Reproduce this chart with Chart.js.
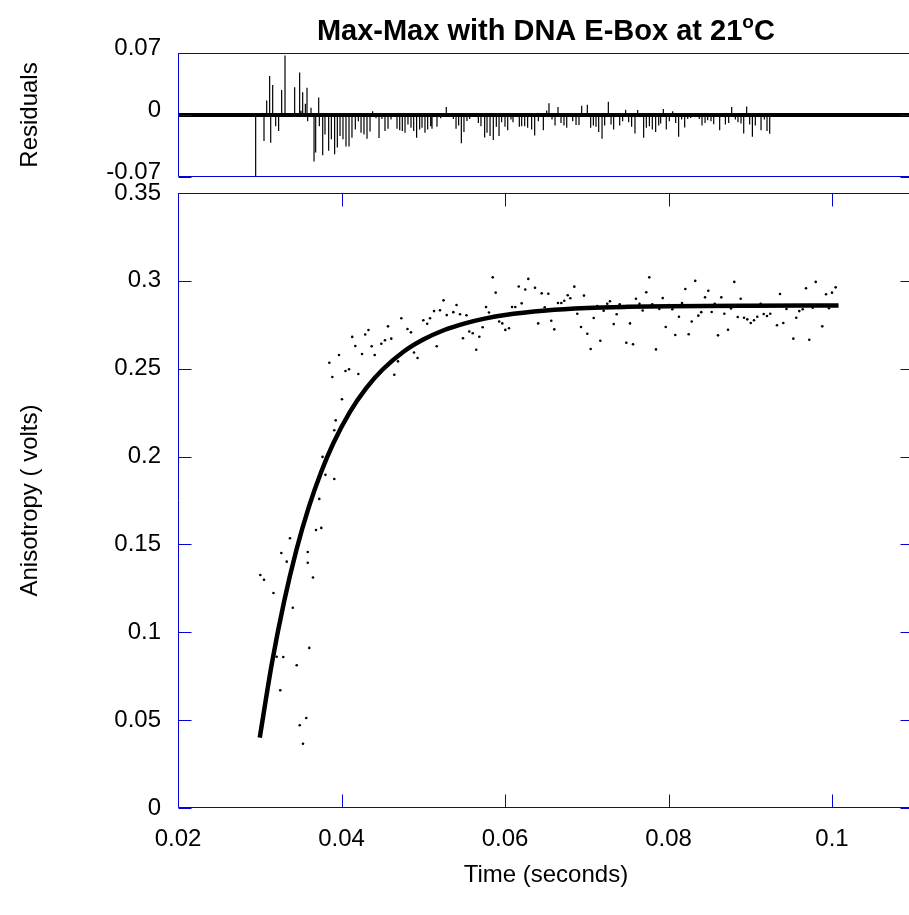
<!DOCTYPE html>
<html>
<head>
<meta charset="utf-8">
<title>Max-Max with DNA E-Box at 21°C</title>
<script src="https://cdn.jsdelivr.net/npm/chart.js@4.4.1/dist/chart.umd.min.js"></script>
<style>
  html, body { margin: 0; padding: 0; background: #fff; overflow: hidden; }
  #stage { position: relative; width: 909px; height: 915px; overflow: hidden; background: #fff; }
  #stage canvas { position: absolute; left: 0; top: 0; }
</style>
</head>
<body>
<div id="stage">
  <canvas id="mainChart" width="960" height="915"></canvas>
  <canvas id="residChart" width="960" height="220"></canvas>
</div>
<script>
// ---- Measured anisotropy (time in seconds, anisotropy in volts) ----
const obsTime = [
  0.03007,0.03052,0.03168,0.03207,0.03251,0.03264,0.03288,0.03330,0.03370,0.03404,
  0.03452,0.03489,0.03529,0.03569,0.03587,0.03587,0.03606,0.03651,0.03688,0.03728,
  0.03753,0.03768,0.03804,0.03851,0.03888,0.03912,0.03912,0.03929,0.03969,0.04006,
  0.04049,0.04092,0.04131,0.04169,0.04206,0.04251,0.04290,0.04330,0.04369,0.04406,
  0.04487,0.04532,0.04569,0.04609,0.04646,0.04691,0.04732,0.04807,0.04850,0.04887,
  0.04930,0.05001,0.05048,0.05083,0.05132,0.05165,0.05205,0.05248,0.05287,0.05368,
  0.05407,0.05450,0.05486,0.05529,0.05563,0.05605,0.05648,0.05686,0.05727,0.05768,
  0.05804,0.05850,0.05886,0.05929,0.05967,0.06004,0.06049,0.06086,0.06126,0.06168,
  0.06204,0.06248,0.06285,0.06367,0.06406,0.06449,0.06486,0.06530,0.06566,0.06603,
  0.06648,0.06689,0.06725,0.06767,0.06799,0.06848,0.06884,0.06930,0.06966,0.07007,
  0.07048,0.07085,0.07129,0.07166,0.07207,0.07251,0.07284,0.07330,0.07366,0.07403,
  0.07484,0.07529,0.07566,0.07602,0.07645,0.07684,0.07728,0.07765,0.07802,0.07847,
  0.07888,0.07929,0.07966,0.08006,0.08047,0.08083,0.08128,0.08165,0.08206,0.08247,
  0.08284,0.08327,0.08365,0.08401,0.08447,0.08487,0.08528,0.08565,0.08606,0.08646,
  0.08683,0.08728,0.08765,0.08805,0.08847,0.08883,0.08924,0.08964,0.09006,0.09046,
  0.09086,0.09128,0.09165,0.09205,0.09245,0.09327,0.09364,0.09404,0.09443,0.09527,
  0.09563,0.09600,0.09642,0.09682,0.09722,0.09764,0.09801,0.09881,0.09927,0.09963,
  0.10000,0.10045
];
const obsAnisotropy = [
  0.1326,0.1299,0.1224,0.0861,0.0670,0.1451,0.0859,0.1402,0.1535,0.1140,
  0.0812,0.0471,0.0366,0.0512,0.1457,0.1396,0.0911,0.1312,0.1582,0.1759,
  0.1594,0.1998,0.1896,0.2534,0.2453,0.2150,0.1872,0.2206,0.2578,0.2326,
  0.2487,0.2497,0.2681,0.2629,0.2470,0.2584,0.2695,0.2720,0.2628,0.2578,
  0.2642,0.2662,0.2741,0.2671,0.2466,0.2542,0.2787,0.2726,0.2707,0.2592,
  0.2561,0.2776,0.2756,0.2787,0.2828,0.2628,0.2833,0.2889,0.2805,0.2822,
  0.2863,0.2810,0.2673,0.2804,0.2712,0.2702,0.2608,0.2682,0.2736,0.2851,
  0.2820,0.3020,0.2933,0.2769,0.2758,0.2721,0.2730,0.2851,0.2851,0.2968,
  0.2872,0.2951,0.3011,0.2961,0.2758,0.2929,0.2850,0.2927,0.2773,0.2724,
  0.2874,0.2874,0.2887,0.2918,0.2901,0.2967,0.2813,0.2737,0.2916,0.2699,
  0.2612,0.2789,0.2857,0.2659,0.2830,0.2870,0.2884,0.2754,0.2810,0.2867,
  0.2648,0.2758,0.2639,0.2898,0.2869,0.2831,0.2935,0.3020,0.2867,0.2610,
  0.2840,0.2902,0.2737,0.2863,0.2838,0.2692,0.2796,0.2874,0.2954,0.2696,
  0.2769,0.3000,0.2802,0.2822,0.2906,0.2944,0.2823,0.2870,0.2690,0.2906,
  0.2813,0.2722,0.2843,0.2994,0.2794,0.2898,0.2790,0.2781,0.2760,0.2776,
  0.2796,0.2870,0.2811,0.2800,0.2813,0.2747,0.2925,0.2760,0.2840,0.2671,
  0.2790,0.2828,0.2838,0.2958,0.2665,0.2847,0.2994,0.2741,0.2924,0.2844,
  0.2933,0.2963
];

// ---- Fitted rise curve ----
const fitTime = [
  0.0300,0.0315,0.0330,0.0345,0.0360,0.0375,0.0390,0.0410,0.0430,0.0450,
  0.0475,0.0500,0.0525,0.0550,0.0575,0.0600,0.0650,0.0700,0.0750,0.0800,
  0.0900,0.1008
];
const fitAnisotropy = [
  0.0400,0.0827,0.1179,0.1471,0.1712,0.1911,0.2076,0.2252,0.2388,0.2494,
  0.2594,0.2666,0.2719,0.2757,0.2785,0.2806,0.2831,0.2845,0.2852,0.2856,
  0.2859,0.2860
];

// ---- Fit residuals ----
const residTime = [
  0.02950,0.03052,0.03085,0.03121,0.03134,0.03158,0.03195,0.03231,0.03268,0.03309,
  0.03427,0.03488,0.03505,0.03525,0.03558,0.03578,0.03586,0.03627,0.03664,0.03684,
  0.03721,0.03729,0.03770,0.03798,0.03843,0.03876,0.03916,0.03949,0.03982,0.04018,
  0.04055,0.04092,0.04128,0.04169,0.04206,0.04239,0.04275,0.04312,0.04349,0.04381,
  0.04422,0.04459,0.04495,0.04532,0.04569,0.04606,0.04679,0.04712,0.04744,0.04777,
  0.04813,0.04850,0.04883,0.04919,0.04956,0.04985,0.05021,0.05054,0.05091,0.05107,
  0.05168,0.05213,0.05282,0.05368,0.05401,0.05433,0.05466,0.05498,0.05535,0.05568,
  0.05674,0.05706,0.05751,0.05780,0.05817,0.05857,0.05894,0.05927,0.05959,0.06000,
  0.06033,0.06073,0.06098,0.06175,0.06204,0.06241,0.06277,
  0.06326,0.06363,0.06408,0.06469,0.06510,0.06538,0.06575,0.06612,0.06648,0.06685,
  0.06722,0.06755,0.06828,0.06869,0.06905,0.06938,0.06975,0.07007,0.07048,0.07081,
  0.07113,0.07146,0.07187,0.07219,0.07264,0.07297,0.07329,0.07403,0.07439,0.07476,
  0.07513,0.07549,0.07590,0.07623,0.07696,0.07729,0.07766,0.07802,0.07843,0.07880,
  0.07904,0.07937,0.07973,0.08010,0.08051,0.08088,0.08124,0.08161,0.08198,0.08235,
  0.08271,0.08377,0.08410,0.08447,0.08479,0.08520,0.08553,0.08626,0.08696,0.08736,
  0.08773,0.08818,0.08850,0.08887,0.08920,0.08956,0.08993,0.09026,0.09062,0.09132,
  0.09172,0.09205,0.09238
];
const residValue = [
  -0.0700,-0.0294,0.0164,0.0439,-0.0312,0.0339,-0.0126,-0.0182,0.0283,0.0673,
  0.0312,0.0480,0.0048,0.0257,0.0126,0.0309,-0.0071,0.0082,-0.0525,-0.0424,
  0.0197,-0.0126,-0.0454,-0.0219,-0.0405,-0.0275,-0.0443,-0.0368,-0.0238,-0.0275,
  -0.0357,-0.0357,-0.0257,-0.0164,-0.0071,-0.0201,-0.0219,-0.0268,-0.0186,0.0041,
  -0.0037,-0.0260,-0.0045,-0.0182,-0.0156,-0.0052,-0.0156,-0.0171,-0.0182,-0.0201,
  -0.0108,-0.0145,-0.0182,-0.0257,-0.0164,-0.0145,-0.0201,-0.0164,-0.0126,-0.0156,
  -0.0134,-0.0037,0.0089,-0.0045,-0.0156,-0.0119,-0.0320,-0.0193,-0.0067,-0.0045,
  -0.0089,-0.0126,-0.0253,-0.0201,-0.0238,-0.0283,-0.0134,-0.0238,-0.0082,-0.0134,
  -0.0171,-0.0052,-0.0082,-0.0134,-0.0126,-0.0126,-0.0145,
  -0.0164,-0.0231,-0.0071,-0.0171,0.0052,0.0134,-0.0052,-0.0119,0.0089,-0.0089,
  -0.0119,-0.0145,-0.0071,-0.0112,-0.0112,0.0104,-0.0020,0.0115,-0.0145,-0.0119,
  -0.0134,-0.0193,-0.0268,-0.0119,0.0149,-0.0108,-0.0164,-0.0119,-0.0071,0.0060,
  -0.0082,-0.0134,-0.0208,0.0056,-0.0257,-0.0145,-0.0126,-0.0164,-0.0193,-0.0119,
  -0.0097,0.0067,-0.0164,-0.0071,0.0041,-0.0089,-0.0246,-0.0052,-0.0141,-0.0045,
  -0.0033,-0.0045,-0.0119,-0.0089,-0.0060,-0.0071,-0.0104,-0.0171,-0.0108,-0.0089,
  0.0089,-0.0052,-0.0082,-0.0097,-0.0208,0.0097,-0.0108,-0.0246,-0.0119,-0.0171,
  -0.0052,-0.0182,-0.0212
];

// ---- Axis ticks ----
const timeTickValues = [0.02, 0.04, 0.06, 0.08, 0.1];
const timeTickLabels = ['0.02', '0.04', '0.06', '0.08', '0.1'];
const anisoTickValues = [0, 0.05, 0.1, 0.15, 0.2, 0.25, 0.3, 0.35];
const anisoTickLabels = ['0', '0.05', '0.1', '0.15', '0.2', '0.25', '0.3', '0.35'];
const residTickValues = [-0.07, 0, 0.07];
const residTickLabels = ['-0.07', '0', '0.07'];

// ---- Layout and style ----
const FONT = "'Liberation Sans', Arial, Helvetica, sans-serif";
const AXIS_BLUE = 'rgb(0,0,215)';
const TICK_LEN = 13;
const CANVAS_W = 960;
const PLOT_LEFT = 178;
const PLOT_RIGHT = 913.75;
const MAIN_TOP = 193, MAIN_BOTTOM = 808, MAIN_H = 915;
const RES_TOP = 53, RES_BOTTOM = 177, RES_H = 220;
const TIME_MIN = 0.02, TIME_MAX = 0.11;

function fixedTicks(values) {
  return function (scale) { scale.ticks = values.map(v => ({ value: v })); };
}
function labelFor(values, labels) {
  return function (v) {
    const i = values.findIndex(t => Math.abs(t - v) < 1e-9);
    return i >= 0 ? labels[i] : '';
  };
}

// Blue box with inward tick marks drawn along the plot frame
function framePlugin(xTicks, yTicks) {
  return {
    id: 'boxFrame',
    afterDatasetsDraw(chart) {
      const { ctx, chartArea: a, scales } = chart;
      const L = Math.round(a.left) + 0.5, R = Math.round(a.right) - 0.5;
      const T = Math.round(a.top) + 0.5, B = Math.round(a.bottom) - 0.5;
      ctx.save();
      ctx.strokeStyle = AXIS_BLUE;
      ctx.lineWidth = 1;
      ctx.beginPath();
      ctx.moveTo(L, T); ctx.lineTo(R, T); ctx.lineTo(R, B); ctx.lineTo(L, B); ctx.closePath();
      xTicks.forEach(v => {
        const x = Math.round(scales.x.getPixelForValue(v)) + 0.5;
        ctx.moveTo(x, T); ctx.lineTo(x, T + TICK_LEN);
        ctx.moveTo(x, B); ctx.lineTo(x, B - TICK_LEN);
      });
      yTicks.forEach(v => {
        const y = Math.round(scales.y.getPixelForValue(v)) + 0.5;
        ctx.moveTo(L, y); ctx.lineTo(L + TICK_LEN, y);
        ctx.moveTo(R, y); ctx.lineTo(R - TICK_LEN, y);
      });
      ctx.stroke();
      ctx.restore();
    }
  };
}

// Chart heading with a raised degree "o"
const headingPlugin = {
  id: 'heading',
  afterDraw(chart) {
    const { ctx, chartArea: a } = chart;
    const main = 'Max-Max with DNA E-Box at 21', sup = 'o', tail = 'C';
    const big = 'bold 29px ' + FONT, small = 'bold 19px ' + FONT;
    ctx.save();
    ctx.fillStyle = '#000';
    ctx.textBaseline = 'alphabetic';
    ctx.font = big; const w1 = ctx.measureText(main).width, w3 = ctx.measureText(tail).width;
    ctx.font = small; const w2 = ctx.measureText(sup).width;
    const cx = (a.left + a.right) / 2;
    let x = cx - (w1 + w2 + w3) / 2;
    const base = 40;
    ctx.textAlign = 'left';
    ctx.font = big; ctx.fillText(main, x, base); x += w1;
    ctx.font = small; ctx.fillText(sup, x, base - 12); x += w2;
    ctx.font = big; ctx.fillText(tail, x, base);
    ctx.restore();
  }
};

Chart.defaults.font.family = FONT;
Chart.defaults.color = '#000';

// ---- Main panel: data points and fitted curve ----
new Chart(document.getElementById('mainChart'), {
  type: 'scatter',
  data: {
    datasets: [
      {
        label: 'Fit',
        data: fitTime.map((t, i) => ({ x: t, y: fitAnisotropy[i] })),
        showLine: true,
        borderColor: '#000',
        borderWidth: 4.5,
        pointRadius: 0,
        cubicInterpolationMode: 'monotone',
        fill: false
      },
      {
        label: 'Anisotropy',
        data: obsTime.map((t, i) => ({ x: t, y: obsAnisotropy[i] })),
        showLine: false,
        pointRadius: 1.3,
        pointBorderWidth: 0,
        pointBackgroundColor: '#000',
        backgroundColor: '#000'
      }
    ]
  },
  options: {
    responsive: false,
    animation: false,
    devicePixelRatio: 1,
    layout: { padding: { left: 0, top: MAIN_TOP, right: CANVAS_W - PLOT_RIGHT, bottom: 0 } },
    plugins: { legend: { display: false }, tooltip: { enabled: false }, title: { display: false } },
    scales: {
      x: {
        type: 'linear', min: TIME_MIN, max: TIME_MAX,
        afterBuildTicks: fixedTicks(timeTickValues),
        afterFit(s) { s.height = MAIN_H - MAIN_BOTTOM; },
        grid: { display: false, drawTicks: false },
        border: { display: false },
        ticks: { font: { size: 24 }, padding: 17, maxRotation: 0, autoSkip: false,
                 callback: labelFor(timeTickValues, timeTickLabels) },
        title: { display: true, text: 'Time (seconds)', font: { size: 24 }, padding: { top: 0, bottom: 25 } }
      },
      y: {
        type: 'linear', min: 0, max: 0.35,
        afterBuildTicks: fixedTicks(anisoTickValues),
        afterFit(s) { s.width = PLOT_LEFT; },
        grid: { display: false, drawTicks: false },
        border: { display: false },
        ticks: { font: { size: 24 }, padding: 17, autoSkip: false,
                 callback: labelFor(anisoTickValues, anisoTickLabels) },
        title: { display: true, text: 'Anisotropy ( volts)', font: { size: 24 }, padding: { top: 16, bottom: 0 } }
      }
    }
  },
  plugins: [framePlugin(timeTickValues, anisoTickValues)]
});

// ---- Residual panel: vertical sticks from zero ----
const stickPoints = [];
residTime.forEach((t, i) => {
  stickPoints.push({ x: t, y: 0 }, { x: t, y: residValue[i] }, { x: t, y: null });
});

new Chart(document.getElementById('residChart'), {
  type: 'line',
  data: {
    datasets: [
      {
        label: 'Zero',
        data: [{ x: TIME_MIN, y: 0 }, { x: TIME_MAX, y: 0 }],
        borderColor: '#000',
        borderWidth: 4,
        pointRadius: 0
      },
      {
        label: 'Residuals',
        data: stickPoints,
        borderColor: '#000',
        borderWidth: 1.2,
        pointRadius: 0,
        spanGaps: false,
        tension: 0
      }
    ]
  },
  options: {
    responsive: false,
    animation: false,
    devicePixelRatio: 1,
    layout: { padding: { left: 0, top: RES_TOP, right: CANVAS_W - PLOT_RIGHT, bottom: RES_H - RES_BOTTOM } },
    plugins: { legend: { display: false }, tooltip: { enabled: false }, title: { display: false } },
    scales: {
      x: {
        type: 'linear', min: TIME_MIN, max: TIME_MAX,
        display: false
      },
      y: {
        type: 'linear', min: -0.07, max: 0.07,
        afterBuildTicks: fixedTicks(residTickValues),
        afterFit(s) { s.width = PLOT_LEFT; },
        grid: { display: false, drawTicks: false },
        border: { display: false },
        ticks: { font: { size: 24 }, padding: 17, autoSkip: false, labelOffset: -5,
                 callback: labelFor(residTickValues, residTickLabels) },
        title: { display: true, text: 'Residuals', font: { size: 24 }, padding: { top: 16, bottom: 0 } }
      }
    }
  },
  plugins: [framePlugin([], residTickValues), headingPlugin]
});
</script>
</body>
</html>
